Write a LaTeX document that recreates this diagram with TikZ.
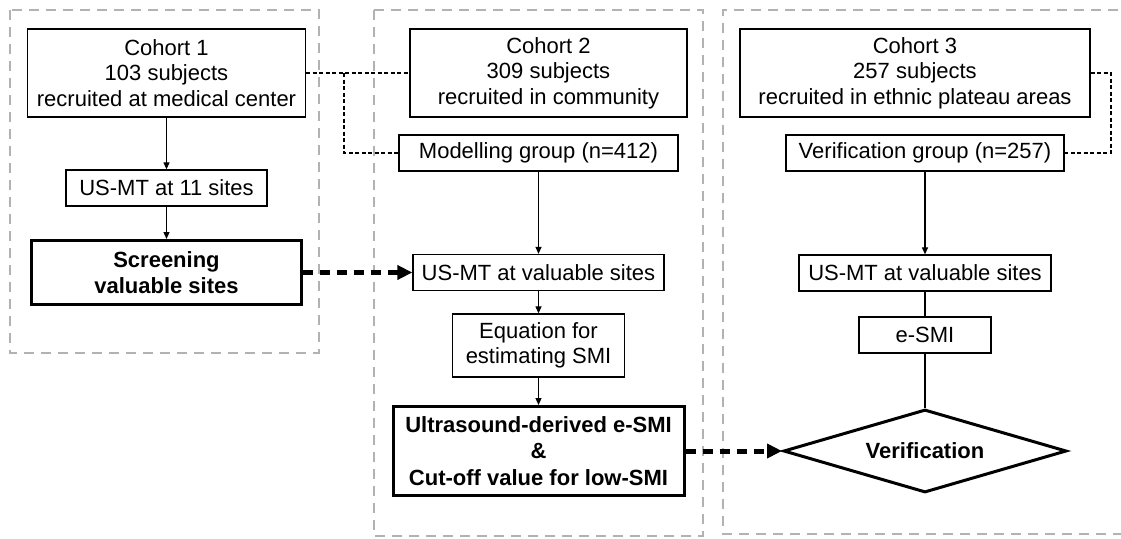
\documentclass[tikz,border=0pt]{standalone}
\usepackage{fontspec}
\setmainfont{Liberation Sans}
\usetikzlibrary{arrows.meta,shapes.geometric}
\begin{document}
\begin{tikzpicture}[x=1pt,y=-1pt,
  every node/.style={font=\fontsize{22}{25.5}\selectfont},
  box/.style={draw,line width=1.3pt,inner sep=0pt,align=center},
  boldbox/.style={draw,line width=3pt,inner sep=0pt,align=center,font=\fontsize{22}{26.5}\selectfont\bfseries},
  cont/.style={draw=gray!60,line width=2pt,dash pattern=on 10pt off 7pt},
  thinarrow/.style={line width=1.2pt,-{Triangle[length=7pt,width=6pt]}},
  plainline/.style={line width=1.2pt},
  thindash/.style={line width=1.2pt,dash pattern=on 4pt off 2.5pt},
  thickdash/.style={line width=5pt,dash pattern=on 10pt off 7pt,-{Triangle[length=15pt,width=14pt]}}
]
\useasboundingbox (0,0) rectangle (1121,538);

% group frames
\draw[cont] (10,10) rectangle (319,353);
\draw[cont] (374,10) rectangle (703,536);
\draw[cont] (1135,10) -- (723,10) -- (723,534) -- (1135,534);

% cohort boxes
\node[box,minimum width=278pt,minimum height=88pt] (c1) at (166.5,73) {Cohort 1\\103 subjects\\recruited at medical center};
\node[box,minimum width=277pt,minimum height=88pt] (c2) at (548.5,73) {Cohort 2\\309 subjects\\recruited in community};
\node[box,minimum width=350pt,minimum height=88pt] (c3) at (915,73) {Cohort 3\\257 subjects\\recruited in ethnic plateau areas};

% groups
\node[box,minimum width=279pt,minimum height=36pt] (mg) at (538.5,153) {Modelling group (n=412)};
\node[box,minimum width=278pt,minimum height=36pt] (vg) at (925,153) {Verification group (n=257)};

% left column
\node[box,minimum width=201pt,minimum height=36pt] (us11) at (166.5,188) {US-MT at 11 sites};
\node[boldbox,minimum width=270pt,minimum height=64pt] (scr) at (166.5,272.5) {Screening\\valuable sites};

% middle column
\node[box,minimum width=251pt,minimum height=36pt] (usv2) at (538.5,272.5) {US-MT at valuable sites};
\node[box,minimum width=172pt,minimum height=63pt] (eq) at (538.5,345.5) {Equation for\\estimating SMI};
\node[boldbox,minimum width=291pt,minimum height=89pt] (ud) at (538.5,451) {Ultrasound-derived e-SMI\\\&\\Cut-off value for low-SMI};

% right column
\node[box,minimum width=252pt,minimum height=36pt] (usv3) at (925,273) {US-MT at valuable sites};
\node[box,minimum width=132pt,minimum height=36pt] (esmi) at (925,335) {e-SMI};
\node[diamond,draw,line width=3pt,aspect=3.4,inner sep=0pt,minimum width=283pt,minimum height=83pt,font=\fontsize{22}{25.5}\selectfont\bfseries] (ver) at (925,451) {Verification};

% junction coordinates for the thin dashed links
\coordinate (j1) at (344,73);
\coordinate (j2) at (1111,73);

% thin dashed links
\draw[thindash] (c1.east) -- (c2.west);
\draw[thindash] (j1) |- (mg.west);
\draw[thindash] (c3.east) -- (j2) |- (vg.east);

% solid arrows
\draw[thinarrow] (c1.south) -- (us11.north);
\draw[thinarrow] (us11.south) -- (scr.north);
\draw[thinarrow] (mg.south) -- (usv2.north);
\draw[thinarrow] (usv2.south) -- (eq.north);
\draw[thinarrow] (eq.south) -- (ud.north);
\draw[thinarrow] (vg.south) -- (usv3.north);
\draw[plainline] (usv3.south) -- (esmi.north);
\draw[plainline] (esmi.south) -- (ver.north);

% thick dashed arrows
\draw[thickdash] (scr.east) -- (usv2.west);
\draw[thickdash] (ud.east) -- (ver.west);
\end{tikzpicture}
\end{document}
